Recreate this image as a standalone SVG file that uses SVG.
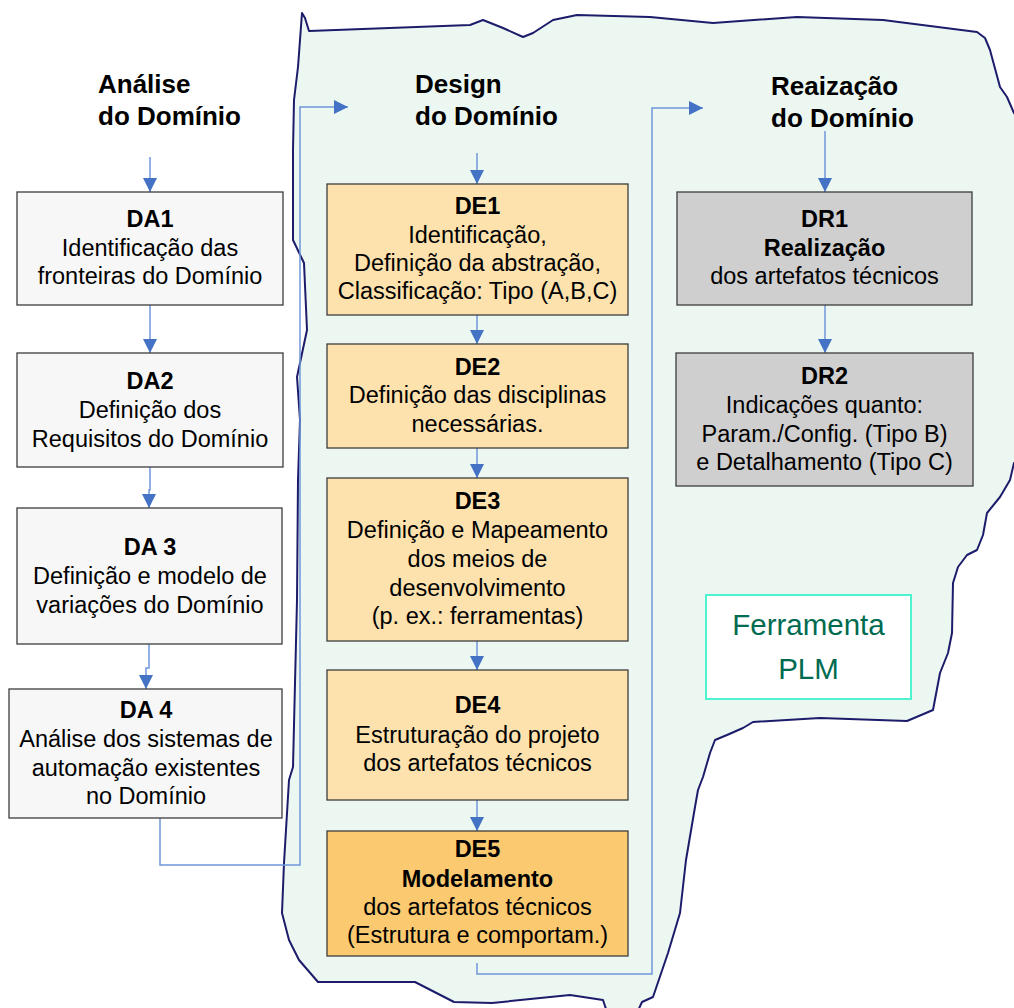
<svg xmlns="http://www.w3.org/2000/svg" width="1014" height="1008" viewBox="0 0 1014 1008">
  <defs>
    <marker id="arrow" markerUnits="userSpaceOnUse" markerWidth="14" markerHeight="14" refX="14" refY="7" orient="auto">
      <path d="M0,0 L14,7 L0,14 z" fill="#4472c4"/>
    </marker>
    <style>
      text { font-family: "Liberation Sans", Arial, sans-serif; fill: #000; }
      .hdr { font-size: 26px; font-weight: bold; }
      .lbl { font-size: 23.5px; text-anchor: middle; }
      .b { font-weight: bold; }
      .box { stroke: #3c3c3c; stroke-width: 1.3; }
      .da { fill: #f7f7f7; }
      .de { fill: #fde2ae; }
      .de5 { fill: #fbc970; }
      .dr { fill: #cfcfcf; }
      .conn { fill: none; stroke: #6f97da; stroke-width: 1.5; }
      .plm { font-size: 29.5px; text-anchor: middle; fill: #006b50; }
    </style>
  </defs>

  <rect width="1014" height="1008" fill="#ffffff"/>

  <!-- freeform region enclosing design and realization phases -->
  <path id="region" fill="#edf7f1" stroke="#1c1c6b" stroke-width="2" stroke-linejoin="round"
    d="M302,13 L305,18 L309,31 L470,25 L483,20 L503,28 L523,37 L533,33 L553,20 L577,15 L650,17 L713,23 L797,17 L883,20 L977,32 L985,38 L990,50 L1000,87 L1007,97 L1014,113 L1030,130 L1030,460 L1014,463 L1010,480 L1000,497 L987,513 L983,535 L977,550 L967,555 L958,567 L953,583 L952,633 L948,653 L940,673 L933,710 L907,721 L820,718 L753,722 L743,728 L727,735 L715,740 L710,753 L703,777 L698,790 L695,807 L686,860 L680,913 L668,953 L653,997 L642,1002 L636,1015 L608,1015 L603,1000 L570,995 L492,1003 L454,1002 L415,982 L318,982 L299,960 L289,940 L282,913 L284,863 L289,780 L293,767 L297,600 L298,480 L300,420 L297,377 L307,330 L304,263 L293,240 L293,150 L294,100 L298,67 Z"/>

  <!-- phase headings -->
  <g id="hdr-analise">
    <text class="hdr" x="98" y="93">Análise</text>
    <text class="hdr" x="98" y="125">do Domínio</text>
  </g>
  <g id="hdr-design">
    <text class="hdr" x="415" y="93">Design</text>
    <text class="hdr" x="415" y="125">do Domínio</text>
  </g>
  <g id="hdr-realizacao">
    <text class="hdr" x="771" y="95">Reaização</text>
    <text class="hdr" x="771" y="127">do Domínio</text>
  </g>

  <!-- connectors -->
  <g id="connectors" class="conn">
    <path d="M150,157 V192" marker-end="url(#arrow)"/>
    <path d="M150,305 V353" marker-end="url(#arrow)"/>
    <path d="M150,467 V490 H149 V508" marker-end="url(#arrow)"/>
    <path d="M149,644 V668 H146 V689" marker-end="url(#arrow)"/>
    <path d="M160,818 V865 H300 V107 H348" marker-end="url(#arrow)"/>
    <path d="M477,153 V184" marker-end="url(#arrow)"/>
    <path d="M477,315 V344" marker-end="url(#arrow)"/>
    <path d="M477,448 V478" marker-end="url(#arrow)"/>
    <path d="M477,641 V670" marker-end="url(#arrow)"/>
    <path d="M477,800 V831" marker-end="url(#arrow)"/>
    <path d="M477,963 V974 H652 V108 H703" marker-end="url(#arrow)"/>
    <path d="M825,131 V192" marker-end="url(#arrow)"/>
    <path d="M825,305 V353" marker-end="url(#arrow)"/>
  </g>

  <!-- domain analysis -->
  <g id="DA1">
    <rect class="box da" x="17" y="192" width="266" height="113"/>
    <text class="lbl b" x="150" y="227">DA1</text>
    <text class="lbl" x="150" y="256">Identificação das</text>
    <text class="lbl" x="150" y="284">fronteiras do Domínio</text>
  </g>
  <g id="DA2">
    <rect class="box da" x="17" y="353" width="266" height="114"/>
    <text class="lbl b" x="150" y="389">DA2</text>
    <text class="lbl" x="150" y="418">Definição dos</text>
    <text class="lbl" x="150" y="447">Requisitos do Domínio</text>
  </g>
  <g id="DA3">
    <rect class="box da" x="17" y="508" width="265" height="136"/>
    <text class="lbl b" x="150" y="555">DA 3</text>
    <text class="lbl" x="150" y="584">Definição e modelo de</text>
    <text class="lbl" x="150" y="613">variações do Domínio</text>
  </g>
  <g id="DA4">
    <rect class="box da" x="9" y="689" width="273" height="129"/>
    <text class="lbl b" x="146" y="718">DA 4</text>
    <text class="lbl" x="146" y="747">Análise dos sistemas de</text>
    <text class="lbl" x="146" y="776">automação existentes</text>
    <text class="lbl" x="146" y="804">no Domínio</text>
  </g>

  <!-- domain design -->
  <g id="DE1">
    <rect class="box de" x="327" y="184" width="301" height="131"/>
    <text class="lbl b" x="477.5" y="214">DE1</text>
    <text class="lbl" x="477.5" y="243">Identificação,</text>
    <text class="lbl" x="477.5" y="271">Definição da abstração,</text>
    <text class="lbl" x="477.5" y="299">Classificação: Tipo (A,B,C)</text>
  </g>
  <g id="DE2">
    <rect class="box de" x="327" y="344" width="301" height="104"/>
    <text class="lbl b" x="477.5" y="375">DE2</text>
    <text class="lbl" x="477.5" y="403">Definição das disciplinas</text>
    <text class="lbl" x="477.5" y="432">necessárias.</text>
  </g>
  <g id="DE3">
    <rect class="box de" x="327" y="478" width="301" height="163"/>
    <text class="lbl b" x="477.5" y="509">DE3</text>
    <text class="lbl" x="477.5" y="538">Definição e Mapeamento</text>
    <text class="lbl" x="477.5" y="567">dos meios de</text>
    <text class="lbl" x="477.5" y="596">desenvolvimento</text>
    <text class="lbl" x="477.5" y="624">(p. ex.: ferramentas)</text>
  </g>
  <g id="DE4">
    <rect class="box de" x="327" y="670" width="301" height="130"/>
    <text class="lbl b" x="477.5" y="713">DE4</text>
    <text class="lbl" x="477.5" y="743">Estruturação do projeto</text>
    <text class="lbl" x="477.5" y="771">dos artefatos técnicos</text>
  </g>
  <g id="DE5">
    <rect class="box de5" x="327" y="831" width="301" height="125"/>
    <text class="lbl b" x="477.5" y="857">DE5</text>
    <text class="lbl b" x="477.5" y="887">Modelamento</text>
    <text class="lbl" x="477.5" y="915">dos artefatos técnicos</text>
    <text class="lbl" x="477.5" y="943">(Estrutura e comportam.)</text>
  </g>

  <!-- domain realization -->
  <g id="DR1">
    <rect class="box dr" x="677" y="192" width="295" height="113"/>
    <text class="lbl b" x="824.5" y="227">DR1</text>
    <text class="lbl b" x="824.5" y="256">Realização</text>
    <text class="lbl" x="824.5" y="284">dos artefatos técnicos</text>
  </g>
  <g id="DR2">
    <rect class="box dr" x="676" y="353" width="297" height="133"/>
    <text class="lbl b" x="824.5" y="384">DR2</text>
    <text class="lbl" x="824.5" y="413">Indicações quanto:</text>
    <text class="lbl" x="824.5" y="442">Param./Config. (Tipo B)</text>
    <text class="lbl" x="824.5" y="470">e Detalhamento (Tipo C)</text>
  </g>

  <!-- tool note -->
  <g id="PLM">
    <rect x="706" y="595" width="205" height="104" fill="#ffffff" stroke="#4df2cf" stroke-width="2"/>
    <text class="plm" x="808.5" y="635">Ferramenta</text>
    <text class="plm" x="808.5" y="679">PLM</text>
  </g>
</svg>
